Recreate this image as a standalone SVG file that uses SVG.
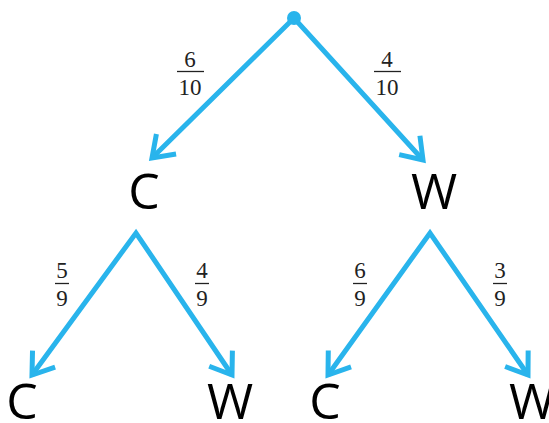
<svg xmlns="http://www.w3.org/2000/svg" width="549" height="423" viewBox="0 0 549 423">
<defs>
<marker id="ah" markerUnits="userSpaceOnUse" markerWidth="60" markerHeight="60" refX="0" refY="0" viewBox="-30 -30 60 60" orient="auto-start-reverse" overflow="visible">
<path d="M -20 -14 L 0 0 L -20 14" fill="none" stroke="#29b4ec" stroke-width="5" stroke-linejoin="miter" stroke-linecap="butt"/>
</marker>
<style>
.edge{fill:none;stroke:#29b4ec;stroke-width:5;stroke-linejoin:miter;stroke-miterlimit:10;marker-start:url(#ah);marker-end:url(#ah)}
.lbl{font-family:"Open Sans","DejaVu Sans",sans-serif;font-size:50px;fill:#000;text-anchor:middle}
.fr{font-family:"Liberation Serif","DejaVu Serif",serif;font-size:23px;fill:#222;text-anchor:middle}
.bar{stroke:#222;stroke-width:1.3}
</style>
</defs>
<g id="connectors">
<path class="edge" d="M 152 158 L 294 18 L 423 160"/>
<path class="edge" d="M 32 375 L 136 233 L 232 375"/>
<path class="edge" d="M 328 375 L 430 233 L 528 375"/>
<circle cx="294" cy="18" r="7" fill="#29b4ec"/>
</g>
<g id="edge-labels">
<text class="fr" x="190" y="67">6</text><line class="bar" x1="177" y1="71.5" x2="204" y2="71.5"/><text class="fr" x="190" y="95">10</text>
<text class="fr" x="387" y="67">4</text><line class="bar" x1="374" y1="71.5" x2="401" y2="71.5"/><text class="fr" x="387" y="95">10</text>
<text class="fr" x="62" y="278">5</text><line class="bar" x1="55" y1="283.5" x2="69" y2="283.5"/><text class="fr" x="62" y="306">9</text>
<text class="fr" x="202" y="278">4</text><line class="bar" x1="195" y1="283.5" x2="209" y2="283.5"/><text class="fr" x="202" y="306">9</text>
<text class="fr" x="360" y="278">6</text><line class="bar" x1="353" y1="283.5" x2="367" y2="283.5"/><text class="fr" x="360" y="306">9</text>
<text class="fr" x="500" y="278">3</text><line class="bar" x1="493" y1="283.5" x2="507" y2="283.5"/><text class="fr" x="500" y="306">9</text>
</g>
<g id="node-C1"><text class="lbl" x="144" y="209">C</text></g>
<g id="node-W1"><text class="lbl" x="434" y="209">W</text></g>
<g id="node-C2"><text class="lbl" x="22" y="419">C</text></g>
<g id="node-W2"><text class="lbl" x="230" y="419">W</text></g>
<g id="node-C3"><text class="lbl" x="325" y="419">C</text></g>
<g id="node-W3"><text class="lbl" x="532" y="419">W</text></g>
</svg>
